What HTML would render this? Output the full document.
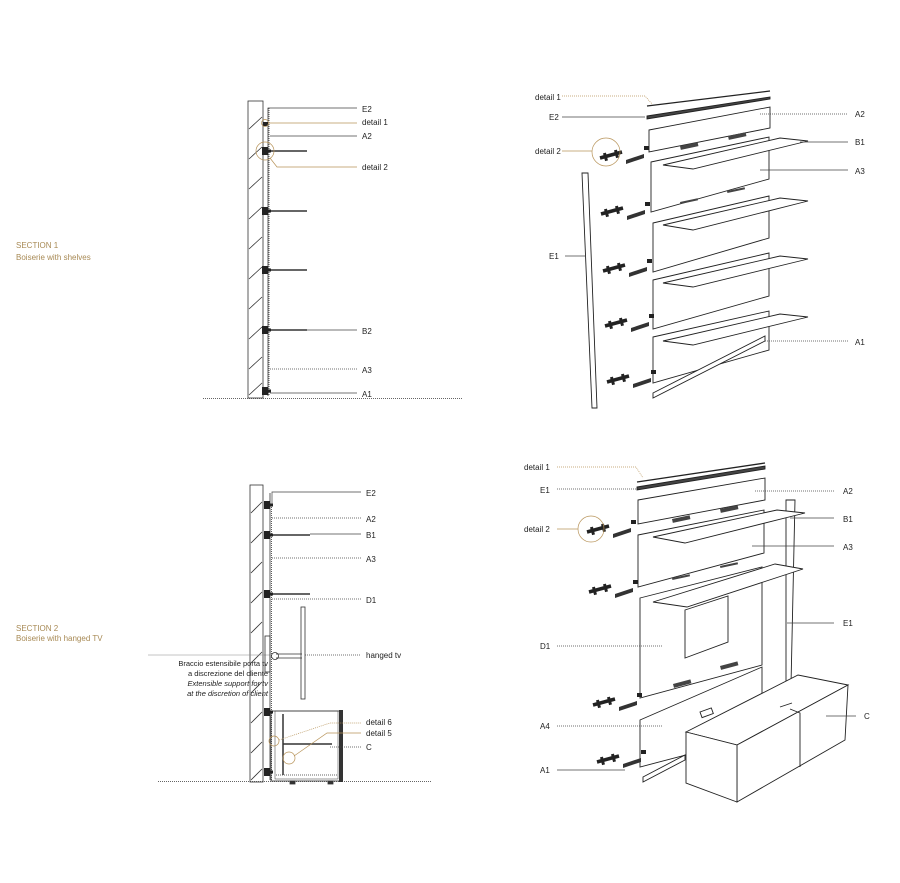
<!DOCTYPE html>
<html><head><meta charset="utf-8"><style>
body{margin:0;background:#fff}
svg{display:block}
text{font-family:"Liberation Sans",sans-serif;font-size:8px;fill:#222}
.g{fill:#a88a55}
</style></head><body>
<svg width="900" height="883" viewBox="0 0 900 883" xmlns="http://www.w3.org/2000/svg">
<defs>
<g id="brk">
  <line x1="0" y1="6" x2="22" y2="0" stroke="#222" stroke-width="3.5"/>
  <rect x="4" y="1" width="3" height="8" fill="#222" transform="rotate(-15 5 5)"/>
  <rect x="15" y="-2" width="3" height="8" fill="#222" transform="rotate(-15 16 2)"/>
  <polygon points="26,8 44,2 44,6 26,12" fill="#333"/>
  <rect x="44" y="-6" width="5" height="4" fill="#222"/>
</g>
<g id="sbrk"><rect x="-3" y="-4" width="6" height="8" fill="#222"/><rect x="0" y="-1.5" width="6" height="3" fill="#222"/></g>
</defs>

<!-- SECTION labels -->
<text x="16" y="248" class="g">SECTION 1</text>
<text x="16" y="260" class="g">Boiserie with shelves</text>
<text x="16" y="631" class="g">SECTION 2</text>
<text x="16" y="641" class="g">Boiserie with hanged TV</text>

<!-- ===== Section 1 ===== -->
<g stroke="#333" fill="none" stroke-width="0.8">
<rect x="248" y="101" width="15" height="297"/>
<path d="M249,129 l13,-12 M249,159 l13,-12 M249,189 l13,-12 M249,219 l13,-12 M249,249 l13,-12 M249,279 l13,-12 M249,309 l13,-12 M249,339 l13,-12 M249,369 l13,-12 M249,395 l13,-12"/>
<line x1="268" y1="108" x2="268" y2="396"/>
<line x1="269" y1="108" x2="269" y2="396" stroke-dasharray="1 1"/>
<line x1="203" y1="398.5" x2="462" y2="398.5" stroke-dasharray="1 1"/>
</g>
<g stroke="#333" stroke-width="1.5">
<line x1="268" y1="151" x2="307" y2="151"/><line x1="268" y1="211" x2="307" y2="211"/>
<line x1="268" y1="270" x2="307" y2="270"/><line x1="268" y1="330" x2="307" y2="330"/>
</g>
<use href="#sbrk" x="265" y="151"/><use href="#sbrk" x="265" y="211"/><use href="#sbrk" x="265" y="270"/><use href="#sbrk" x="265" y="330"/><use href="#sbrk" x="265" y="391"/>
<rect x="263" y="122" width="5" height="4" fill="#222"/>
<g stroke="#444" stroke-width="0.7" fill="none">
<path d="M268,109 V108 H357"/><line x1="270" y1="136" x2="357" y2="136"/>
<line x1="307" y1="330" x2="357" y2="330"/><line x1="270" y1="369" x2="357" y2="369" stroke-dasharray="1 1"/>
<line x1="270" y1="393" x2="357" y2="393"/>
</g>
<g stroke="#b8945a" stroke-width="0.7" fill="none">
<circle cx="265" cy="123" r="3.5"/><line x1="268" y1="123" x2="357" y2="123"/>
<circle cx="265" cy="151" r="9"/><path d="M270,158 L277,167 H357"/>
</g>
<text x="362" y="112">E2</text><text x="362" y="125">detail 1</text><text x="362" y="139">A2</text>
<text x="362" y="170">detail 2</text><text x="362" y="334">B2</text><text x="362" y="373">A3</text><text x="362" y="397">A1</text>

<!-- ===== Top right exploded ===== -->
<g stroke="#222" stroke-width="0.9" fill="#fff">
<line x1="647" y1="106" x2="770" y2="91" stroke-width="1.3"/>
<polygon points="647,116 770,97 770,99 647,119" fill="#444"/>
<polygon points="649,130 770,107 770,128 649,152"/>
<polygon points="651,162 769,137 769,179 651,212"/>
<polygon points="653,223 769,196 769,238 653,272"/>
<polygon points="653,280 769,253 769,296 653,329"/>
<polygon points="653,337 769,311 769,350 653,383"/>
<polygon points="663,165 693,169 808,141 780,138"/>
<polygon points="663,225 693,230 808,201 780,198"/>
<polygon points="663,283 693,287 808,259 780,256"/>
<polygon points="663,341 693,345 808,317 780,314"/>
<polygon points="653,393 765,336 765,341 653,398"/>
<polygon points="582,173 588,173 597,408 592,408"/>
</g>
<g fill="#444"><rect x="680" y="146" width="18" height="4" transform="rotate(-12 680 146)"/><rect x="728" y="136" width="18" height="4" transform="rotate(-12 728 136)"/>
<rect x="680" y="202" width="18" height="2" transform="rotate(-12 680 202)"/><rect x="727" y="191" width="18" height="2" transform="rotate(-12 727 191)"/></g>
<use href="#brk" x="600" y="152"/><use href="#brk" x="601" y="208"/><use href="#brk" x="603" y="265"/><use href="#brk" x="605" y="320"/><use href="#brk" x="607" y="376"/>
<g stroke="#444" stroke-width="0.7" fill="none">
<line x1="562" y1="117" x2="645" y2="117"/><line x1="565" y1="256" x2="586" y2="256"/>
<line x1="760" y1="114" x2="848" y2="114" stroke-dasharray="1 1"/>
<line x1="800" y1="142" x2="848" y2="142"/><line x1="760" y1="170" x2="848" y2="170"/>
<line x1="765" y1="341" x2="848" y2="341" stroke-dasharray="1 1"/>
</g>
<g stroke="#b8945a" stroke-width="0.7" fill="none">
<path d="M562,96 H645 L652,104" stroke-dasharray="1 1"/>
<line x1="562" y1="151" x2="592" y2="151"/><circle cx="606" cy="152" r="14"/>
</g>
<text x="535" y="100">detail 1</text><text x="549" y="120">E2</text><text x="535" y="154">detail 2</text><text x="549" y="259">E1</text>
<text x="855" y="117">A2</text><text x="855" y="145">B1</text><text x="855" y="174">A3</text><text x="855" y="345">A1</text>

<!-- ===== Section 2 ===== -->
<g stroke="#333" fill="none" stroke-width="0.8">
<rect x="250" y="485" width="13" height="297"/>
<path d="M251,513 l11,-11 M251,543 l11,-11 M251,573 l11,-11 M251,603 l11,-11 M251,633 l11,-11 M251,663 l11,-11 M251,693 l11,-11 M251,723 l11,-11 M251,753 l11,-11 M251,780 l11,-11"/>
<line x1="270" y1="493" x2="270" y2="780"/><line x1="271.5" y1="505" x2="271.5" y2="780" stroke-dasharray="1 1"/>
<line x1="158" y1="781.5" x2="432" y2="781.5" stroke-dasharray="1 1"/>
<line x1="148" y1="655" x2="270" y2="655" stroke="#888" stroke-width="0.5"/>
<rect x="301" y="607" width="4" height="92"/>
<rect x="265" y="636" width="5" height="36"/>
<line x1="276" y1="654" x2="302" y2="654"/><line x1="276" y1="658" x2="302" y2="658"/>
<circle cx="275" cy="656" r="3.5"/>
<rect x="271" y="711" width="71" height="70"/>
<rect x="275" y="711" width="63" height="68" stroke-width="0.5"/>
<line x1="283" y1="714" x2="283" y2="775" stroke-width="1.5"/>
<line x1="276" y1="775" x2="338" y2="775" stroke-dasharray="1 1"/>
<rect x="290" y="781" width="5" height="3" fill="#333"/><rect x="328" y="781" width="5" height="3" fill="#333"/>
</g>
<rect x="339" y="710" width="4" height="72" fill="#333"/>
<g stroke="#333" stroke-width="1.5">
<line x1="270" y1="535" x2="310" y2="535"/><line x1="270" y1="594" x2="310" y2="594"/>
<line x1="283" y1="744" x2="332" y2="744"/>
</g>
<use href="#sbrk" x="267" y="505"/><use href="#sbrk" x="267" y="535"/><use href="#sbrk" x="267" y="594"/><use href="#sbrk" x="267" y="712"/><use href="#sbrk" x="267" y="772"/>
<g stroke="#444" stroke-width="0.7" fill="none">
<path d="M272,504 V492 H361"/><line x1="272" y1="518" x2="361" y2="518" stroke-dasharray="1 1"/>
<line x1="310" y1="534" x2="361" y2="534"/><line x1="272" y1="558" x2="361" y2="558" stroke-dasharray="1 1"/>
<line x1="272" y1="599" x2="361" y2="599" stroke-dasharray="1 1"/>
<line x1="305" y1="655" x2="361" y2="655" stroke-dasharray="1 1"/>
<line x1="330" y1="747" x2="361" y2="747" stroke-dasharray="1 1"/>
</g>
<g stroke="#b8945a" stroke-width="0.7" fill="none">
<circle cx="274" cy="741" r="5"/><circle cx="289" cy="758" r="6"/>
<path d="M279,740 L330,723 H361" stroke-dasharray="1 1"/>
<path d="M294,756 L327,733 H361"/>
</g>
<text x="366" y="496">E2</text><text x="366" y="522">A2</text><text x="366" y="538">B1</text>
<text x="366" y="562">A3</text><text x="366" y="603">D1</text><text x="366" y="658">hanged tv</text>
<text x="366" y="725">detail 6</text><text x="366" y="736">detail 5</text><text x="366" y="750">C</text>
<text x="268" y="666" text-anchor="end" style="font-size:7.5px">Braccio estensibile porta tv</text>
<text x="268" y="676" text-anchor="end" style="font-size:7.5px">a discrezione del cliente</text>
<text x="268" y="686" text-anchor="end" style="font-size:7.5px;font-style:italic" fill="#999">Extensible support for tv</text>
<text x="268" y="696" text-anchor="end" style="font-size:7.5px;font-style:italic" fill="#999">at the discretion of client</text>

<!-- ===== Bottom right exploded ===== -->
<g stroke="#222" stroke-width="0.9" fill="#fff">
<polygon points="786,500 795,500 791,685 786,685"/>
<line x1="637" y1="482" x2="765" y2="463" stroke-width="1.3"/>
<polygon points="637,487 765,466 765,469 637,490" fill="#444"/>
<polygon points="638,500 765,478 765,500 638,524"/>
<polygon points="638,535 764,510 764,553 638,587"/>
<polygon points="640,598 762,567 762,665 640,698"/>
<polygon points="685,610 728,596 728,642 685,658"/>
<polygon points="640,720 762,667 762,735 640,767"/>
<rect x="700" y="712" width="12" height="6" transform="rotate(-20 700 712)"/>
<polygon points="653,537 685,543 805,513 777,510"/>
<polygon points="653,602 687,607 803,569 775,564"/>
<polygon points="643,777 685,755 685,760 643,782"/>
<polygon points="686,732 798,675 848,685 737,745"/>
<polygon points="737,745 848,685 845,740 737,802"/>
<polygon points="686,732 737,745 737,802 686,783"/>
<polyline points="790,709 800,713 800,767" fill="none"/>
<line x1="780" y1="707" x2="792" y2="703"/>
</g>
<g fill="#444"><rect x="672" y="519" width="18" height="4" transform="rotate(-12 672 519)"/><rect x="720" y="509" width="18" height="4" transform="rotate(-12 720 509)"/>
<rect x="672" y="578" width="18" height="2" transform="rotate(-12 672 578)"/><rect x="720" y="566" width="18" height="2" transform="rotate(-12 720 566)"/>
<rect x="673" y="684" width="18" height="4" transform="rotate(-15 673 684)"/><rect x="720" y="666" width="18" height="4" transform="rotate(-15 720 666)"/></g>
<use href="#brk" x="587" y="526"/><use href="#brk" x="589" y="586"/><use href="#brk" x="593" y="699"/><use href="#brk" x="597" y="756"/>
<g stroke="#444" stroke-width="0.7" fill="none">
<line x1="557" y1="489" x2="637" y2="489" stroke-dasharray="1 1"/>
<line x1="557" y1="646" x2="662" y2="646" stroke-dasharray="1 1"/>
<line x1="557" y1="726" x2="662" y2="726" stroke-dasharray="1 1"/>
<line x1="557" y1="770" x2="625" y2="770"/>
<line x1="755" y1="491" x2="834" y2="491" stroke-dasharray="1 1"/>
<line x1="790" y1="518" x2="834" y2="518"/>
<line x1="752" y1="546" x2="834" y2="546"/>
<line x1="787" y1="623" x2="834" y2="623"/>
<line x1="826" y1="716" x2="856" y2="716"/>
</g>
<g stroke="#b8945a" stroke-width="0.7" fill="none">
<path d="M557,467 H636 L643,478" stroke-dasharray="1 1"/>
<line x1="557" y1="529" x2="578" y2="529"/><circle cx="591" cy="529" r="13"/>
</g>
<text x="524" y="470">detail 1</text><text x="540" y="493">E1</text><text x="524" y="532">detail 2</text>
<text x="540" y="649">D1</text><text x="540" y="729">A4</text><text x="540" y="773">A1</text>
<text x="843" y="494">A2</text><text x="843" y="522">B1</text><text x="843" y="550">A3</text><text x="843" y="626">E1</text><text x="864" y="719">C</text>
</svg>
</body></html>
